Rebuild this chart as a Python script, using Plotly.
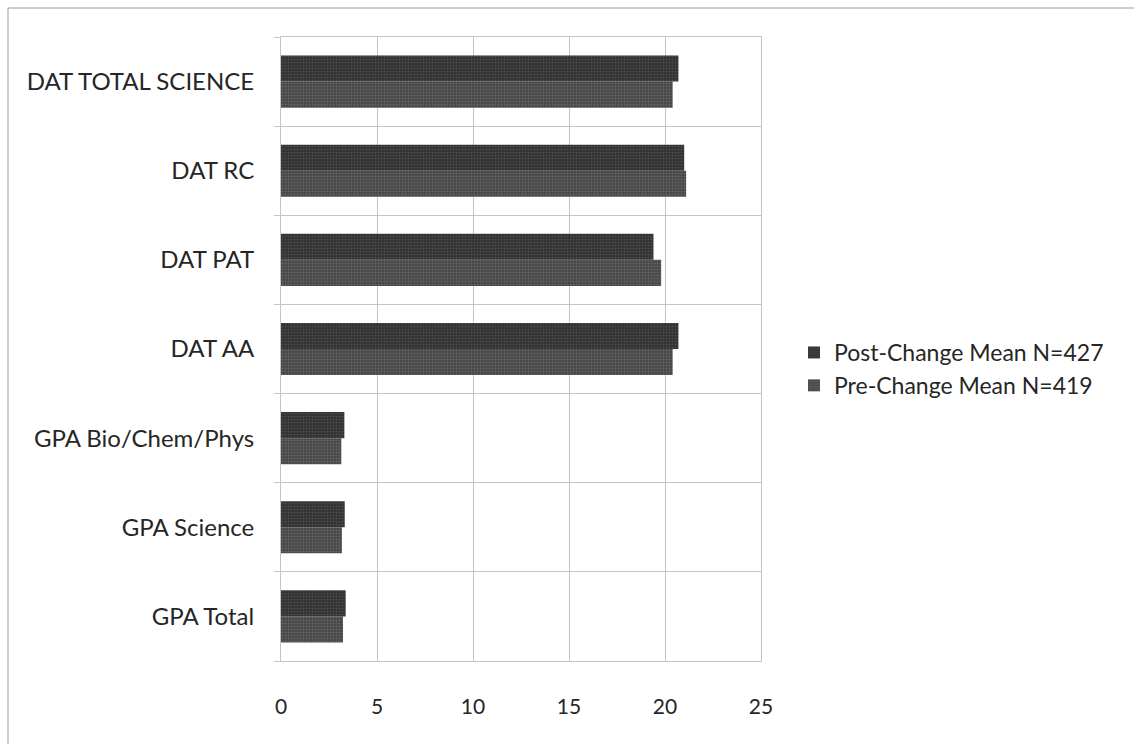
import plotly.graph_objects as go

# Admissions measures, bottom to top on the category axis
categories = [
    "GPA Total",
    "GPA Science",
    "GPA Bio/Chem/Phys",
    "DAT AA",
    "DAT PAT",
    "DAT RC",
    "DAT TOTAL SCIENCE",
]
pre_change_mean = [3.23, 3.17, 3.14, 20.4, 19.8, 21.1, 20.4]
post_change_mean = [3.37, 3.32, 3.30, 20.7, 19.4, 21.0, 20.7]
pre_label = "Pre-Change Mean N=419"
post_label = "Post-Change Mean N=427"
x_ticks = [0, 5, 10, 15, 20, 25]

W, H = 1134, 744
M_L, M_R, M_T, M_B = 281, 373, 37, 83
FONT = "Lato, 'Open Sans', sans-serif"
TEXT = "#262626"
GRID = "#c4c4c4"


def paper_x(px):
    return (px - M_L) / (W - M_L - M_R)


def paper_y(py):
    return (H - M_B - py) / (H - M_T - M_B)


fig = go.Figure()
fig.add_trace(go.Bar(
    y=categories, x=pre_change_mean, orientation="h", name=pre_label,
    marker=dict(color="#474747", line=dict(width=0),
                pattern=dict(shape=".", fgcolor="#858585", bgcolor="#474747",
                             size=3, solidity=0.3)),
))
fig.add_trace(go.Bar(
    y=categories, x=post_change_mean, orientation="h", name=post_label,
    marker=dict(color="#333333", line=dict(width=0),
                pattern=dict(shape=".", fgcolor="#6e6e6e", bgcolor="#333333",
                             size=3, solidity=0.25)),
))

fig.update_layout(
    width=W, height=H,
    margin=dict(l=M_L, r=M_R, t=M_T, b=M_B),
    paper_bgcolor="white", plot_bgcolor="white",
    barmode="group", bargap=0.415, bargroupgap=0,
    font=dict(family=FONT, size=24, color=TEXT),
    showlegend=True,
    legend=dict(
        x=paper_x(794), y=paper_y(369), xanchor="left", yanchor="middle",
        traceorder="reversed", font=dict(family=FONT, size=23, color=TEXT),
        itemwidth=30, tracegroupgap=0, bgcolor="rgba(0,0,0,0)",
    ),
    xaxis=dict(
        range=[0, 25], tickvals=x_ticks, ticktext=[str(v) for v in x_ticks],
        tickfont=dict(family=FONT, size=21, color=TEXT),
        showgrid=True, gridcolor=GRID, gridwidth=1,
        showline=True, linecolor=GRID, linewidth=1, mirror=True,
        zeroline=False, ticks="", ticklabelstandoff=27,
        fixedrange=True,
    ),
    yaxis=dict(
        type="category", categoryorder="array", categoryarray=categories,
        range=[-0.5, len(categories) - 0.5],
        tickfont=dict(family=FONT, size=24, color=TEXT),
        tickson="boundaries", ticks="outside", ticklen=6, tickcolor=GRID,
        showgrid=True, gridcolor=GRID, gridwidth=1,
        showline=True, linecolor=GRID, linewidth=1, mirror=True,
        ticklabelstandoff=21, fixedrange=True,
    ),
    shapes=[
        # frame around the chart area (top and left edges)
        dict(type="line", xref="paper", yref="paper",
             x0=paper_x(8), x1=paper_x(W), y0=paper_y(8), y1=paper_y(8),
             line=dict(color="#9a9a9a", width=1)),
        dict(type="line", xref="paper", yref="paper",
             x0=paper_x(8), x1=paper_x(8), y0=paper_y(8), y1=paper_y(H),
             line=dict(color="#9a9a9a", width=1)),
    ],
)

fig.write_html("out.html")
